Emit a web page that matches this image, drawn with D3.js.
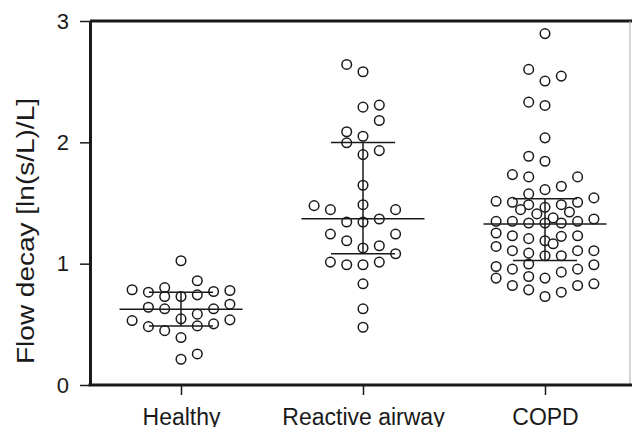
<!DOCTYPE html>
<html>
<head>
<meta charset="utf-8">
<script src="https://cdn.jsdelivr.net/npm/d3@7"></script>
<style>
  body { margin: 0; background: #fff; }
  svg { display: block; font-family: "Liberation Sans", Arial, sans-serif; }
</style>
</head>
<body>
<svg class="chart" width="632" height="427"></svg>
<script>
//------------------------------------------------------------------------------
//Data
//------------------------------------------------------------------------------
var groups = ["Healthy", "Reactive airway", "COPD"];

var healthyValues = [1.024, 0.859, 0.785, 0.765, 0.803, 0.729, 0.729, 0.743, 0.771, 0.779,
  0.641, 0.628, 0.628, 0.666, 0.584, 0.531, 0.481, 0.448, 0.545, 0.487, 0.504, 0.537,
  0.391, 0.256, 0.212];
var healthyCols = [0, 1, -3, -2, -1, -1, 0, 1, 2, 3,
  -2, -1, 2, 3, 1, -3, -2, -1, 0, 1, 2, 3,
  0, 1, 0];

var reactiveValues = [2.642, 2.582, 2.290, 2.307, 2.180, 2.087, 2.050, 1.996, 1.899, 1.932,
  1.646, 1.486, 1.478, 1.445, 1.445, 1.343, 1.343, 1.368, 1.244, 1.244, 1.189, 1.129,
  1.148, 1.082, 1.013, 0.991, 0.991, 1.013, 0.834, 0.628, 0.476];
var reactiveCols = [-1, 0, 0, 1, 1, -1, 0, -1, 0, 1,
  0, 0, -3, -2, 2, -1, 0, 1, -2, 2, -1, 0,
  1, 2, -2, -1, 0, 1, 0, 0, 0];

var copdValues = [2.896, 2.601, 2.505, 2.546, 2.331, 2.304, 2.037, 1.885, 1.844, 1.734,
  1.715, 1.715, 1.610, 1.638, 1.575, 1.514, 1.506, 1.486, 1.464, 1.486, 1.506, 1.542,
  1.445, 1.410, 1.426, 1.377, 1.349, 1.349, 1.335, 1.335, 1.335, 1.349, 1.368,
  1.253, 1.230, 1.206, 1.189, 1.225, 1.230, 1.164, 1.142, 1.107, 1.087, 1.065, 1.065,
  1.107, 1.107, 0.997, 0.991, 0.977, 0.955, 0.955, 0.930, 0.894, 0.881, 0.881, 0.834,
  0.820, 0.820, 0.784, 0.765, 0.729];
var copdCols = [0, -1, 0, 1, -1, 0, 0, -1, 0, -2,
  -1, 2, 0, 1, -1, -3, -2, -1, 0, 1, 2, 3,
  -1.5, -0.5, 1.5, 0.5, -3, -2, -1, 0, 1, 2, 3,
  -3, -2, -1, 0, 1, 2, 0.5, -3, -2, -1, 0, 1,
  2, 3, -1, 3, -3, -2, 2, 1, -1, -3, 0, 3,
  -2, 2, -1, 1, 0];

var medians = [0.625, 1.371, 1.327];
var q1s = [0.487, 1.082, 1.027];
var q3s = [0.765, 1.998, 1.536];

var yTicks = [0, 1, 2, 3];

//------------------------------------------------------------------------------
//Chart
//------------------------------------------------------------------------------
var svg = d3.select(".chart");
var mLeft = 90, mRight = 630, mTop = 21, mBottom = 385;
var ink = "#1a1a1a";

var x = d3.scalePoint().domain(groups).range([mLeft, 636]).padding(0.5);
var y = d3.scaleLinear().domain([0, 3]).range([mBottom, mTop]);
var col = d3.scaleLinear().domain([-1, 1]).range([-16.3, 16.3]);

var points = [];
var sets = [[healthyValues, healthyCols], [reactiveValues, reactiveCols], [copdValues, copdCols]];
sets.forEach(function (s, gi) {
  for (var i = 0; i < s[0].length; i++) {
    points.push({ group: groups[gi], value: s[0][i], col: s[1][i] });
  }
});

// frame
svg.append("line")
  .attr("x1", mLeft).attr("x2", 632).attr("y1", mTop).attr("y2", mTop)
  .attr("stroke", ink).attr("stroke-width", 3);
svg.append("line")
  .attr("x1", mRight).attr("x2", mRight).attr("y1", mTop).attr("y2", mBottom)
  .attr("stroke", "#aaa").attr("stroke-width", 1);

// y axis
var yAxis = svg.append("g")
  .attr("transform", "translate(" + mLeft + ",0)")
  .call(d3.axisLeft(y).tickValues(yTicks).tickFormat(d3.format("d")).tickSize(10).tickSizeOuter(0).tickPadding(11));
yAxis.select(".domain").attr("stroke", ink).attr("stroke-width", 3);
yAxis.selectAll(".tick line").attr("stroke", ink).attr("stroke-width", 1.5);
yAxis.selectAll(".tick text").attr("font-size", 22).attr("fill", ink).attr("font-family", null);

// x axis
var xAxis = svg.append("g")
  .attr("transform", "translate(0," + mBottom + ")")
  .call(d3.axisBottom(x).tickSize(10).tickSizeOuter(0).tickPadding(14));
xAxis.select(".domain").attr("d", "M" + (mLeft - 1.5) + ",0H632").attr("stroke", ink).attr("stroke-width", 3);
xAxis.selectAll(".tick line").attr("stroke", ink).attr("stroke-width", 1.5);
xAxis.selectAll(".tick text").attr("font-size", 23).attr("fill", ink).attr("font-family", null);

// y label
svg.append("text")
  .attr("transform", "translate(34," + 231 + ") rotate(-90)")
  .attr("text-anchor", "middle")
  .attr("font-size", 23)
  .attr("fill", ink)
  .attr("textLength", 266)
  .attr("lengthAdjust", "spacingAndGlyphs")
  .text("Flow decay [ln(s/L)/L]");

// points
svg.append("g")
  .selectAll("circle")
  .data(points)
  .enter()
  .append("circle")
  .attr("cx", function (d) { return x(d.group) + col(d.col); })
  .attr("cy", function (d) { return y(d.value); })
  .attr("r", 4.8)
  .attr("fill", "#fff")
  .attr("stroke", ink)
  .attr("stroke-width", 1.5);

// median and quartile bars
var stats = groups.map(function (g, i) { return { group: g, med: medians[i], q1: q1s[i], q3: q3s[i] }; });
var bars = svg.append("g").attr("stroke", ink).attr("stroke-width", 1.5);
stats.forEach(function (d) {
  var cx = x(d.group);
  bars.append("line").attr("x1", cx - 61.5).attr("x2", cx + 61.5).attr("y1", y(d.med)).attr("y2", y(d.med));
  bars.append("line").attr("x1", cx - 32).attr("x2", cx + 32).attr("y1", y(d.q1)).attr("y2", y(d.q1));
  bars.append("line").attr("x1", cx - 32).attr("x2", cx + 32).attr("y1", y(d.q3)).attr("y2", y(d.q3));
  bars.append("line").attr("x1", cx).attr("x2", cx).attr("y1", y(d.q1)).attr("y2", y(d.q3));
});
</script>
</body>
</html>
